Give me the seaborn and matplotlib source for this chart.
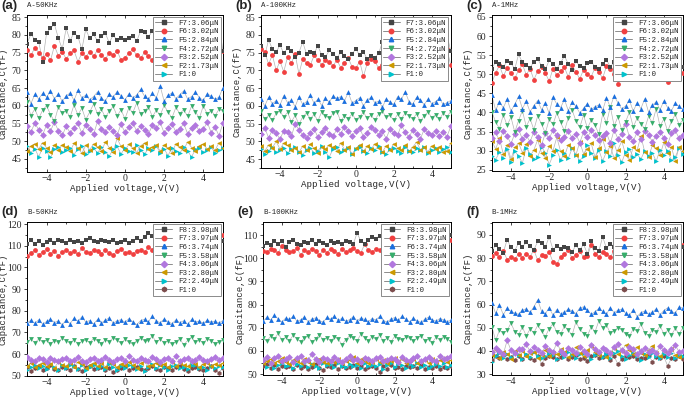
import numpy as np
import pandas as pd
import matplotlib
matplotlib.use("Agg")
import matplotlib.pyplot as plt
from matplotlib.lines import Line2D
from matplotlib.ticker import AutoMinorLocator, MultipleLocator
import seaborn as sns

# Valores (capacitância em fF), varredura de -5 V a 5 V
A50_F7 = [77.5, 80.2, 78.6, 78.0, 72.4, 80.5, 81.9, 83.0, 79.1, 76.0,
          81.8, 78.4, 80.6, 79.5, 75.9, 81.6, 79.0, 80.1, 78.3, 79.6,
          80.4, 77.8, 79.9, 78.5, 79.2, 78.6, 79.0, 79.8, 78.2, 81.1,
          80.7, 79.3, 81.2, 78.5, 80.0, 80.6, 79.1, 78.0, 80.8, 78.9,
          79.6, 81.0, 78.4, 80.2, 79.0, 78.6, 80.5, 78.2, 81.0, 83.0, 75.5]
A50_F6 = [75.8, 74.2, 76.4, 75.0, 73.5, 74.6, 72.8, 76.9, 74.1, 75.3,
          73.2, 74.8, 75.6, 72.4, 74.9, 73.8, 75.2, 74.0, 75.7, 74.4,
          73.1, 75.0, 74.3, 75.5, 72.9, 73.6, 74.8, 75.9, 74.2, 73.4,
          75.1, 74.0, 72.8, 75.4, 74.6, 73.5, 76.1, 74.3, 75.0, 73.7,
          74.9, 75.6, 73.2, 74.5, 75.3, 74.0, 73.6, 75.2, 74.7, 79.0, 75.4]
A50_F5 = [63.8, 60.6, 63.2, 61.9, 63.5, 62.4, 64.1, 62.0, 63.3, 61.2,
          62.8, 63.6, 61.5, 64.3, 62.2, 63.0, 61.7, 62.6, 63.9, 62.1,
          61.4, 63.2, 62.5, 64.0, 62.8, 61.6, 63.4, 62.3, 63.0, 64.6,
          62.7, 61.8, 63.5, 62.2, 65.5, 61.3, 62.9, 63.6, 62.0, 63.1,
          64.2, 61.9, 62.6, 63.8, 62.3, 61.5, 63.4, 62.7, 61.8, 62.4, 65.0]
A50_F4 = [61.0, 57.2, 59.1, 56.4, 58.8, 60.0, 57.5, 55.6, 59.6, 57.9,
          58.6, 56.8, 60.2, 57.4, 59.3, 56.1, 58.2, 60.5, 57.8, 59.0,
          56.7, 58.5, 59.8, 57.1, 58.9, 56.3, 59.4, 58.0, 60.8, 57.6,
          58.4, 59.7, 56.9, 58.7, 57.3, 60.1, 58.2, 56.6, 59.5, 57.8,
          58.9, 57.0, 59.9, 58.3, 56.5, 60.0, 57.7, 58.6, 57.2, 59.0, 58.4]
A50_F3 = [54.3, 52.6, 55.1, 53.2, 51.8, 54.6, 52.9, 55.4, 53.0, 51.6,
          54.2, 52.4, 53.8, 55.0, 52.2, 54.7, 53.3, 51.9, 55.6, 53.5,
          52.7, 54.1, 53.0, 51.7, 54.8, 52.5, 53.9, 55.2, 52.8, 54.4,
          53.1, 52.0, 54.5, 53.6, 55.3, 52.3, 53.8, 54.9, 52.6, 53.4,
          55.0, 52.1, 53.7, 54.6, 52.9, 53.3, 55.4, 52.4, 54.0, 51.5, 55.1]
A50_F2 = [47.2, 48.6, 49.3, 47.8, 49.6, 48.1, 46.9, 48.9, 47.5, 49.0,
          48.3, 47.1, 49.4, 48.0, 46.6, 48.8, 47.6, 49.2, 48.4, 47.3,
          49.7, 48.2, 47.0, 50.8, 48.5, 47.4, 49.1, 48.0, 46.8, 48.7,
          49.5, 47.7, 48.3, 49.0, 47.2, 48.9, 48.1, 46.7, 49.3, 48.4,
          47.6, 49.8, 48.2, 47.3, 48.6, 49.1, 47.8, 48.5, 47.4, 49.6, 48.0]
A50_F1 = [48.5, 46.8, 47.9, 45.6, 48.2, 47.1, 45.4, 47.8, 48.4, 46.9,
          47.6, 48.1, 46.2, 47.9, 48.6, 46.5, 47.3, 48.0, 46.7, 48.3,
          47.0, 45.8, 47.7, 48.5, 46.4, 48.1, 47.2, 46.9, 48.8, 47.5,
          46.3, 48.0, 47.4, 48.6, 46.8, 47.9, 45.9, 48.2, 47.1, 46.6,
          48.4, 47.3, 45.5, 47.8, 48.1, 46.9, 47.6, 48.3, 46.7, 47.4, 48.0]

A100_F7 = [77.0, 74.2, 78.6, 76.0, 75.2, 77.1, 74.8, 76.3, 75.5, 73.9,
           75.0, 78.0, 74.6, 75.3, 74.9, 76.8, 74.4, 73.8, 75.6, 74.7,
           73.5, 75.1, 74.0, 73.3, 74.6, 76.1, 74.2, 75.3, 73.1, 74.0,
           73.6, 74.8, 78.0, 75.4, 76.0, 75.7, 74.9, 76.5, 75.8, 77.0,
           75.2, 76.4, 75.6, 74.8, 76.9, 75.3, 76.1, 75.0, 77.4, 80.0, 75.5]
A100_F6 = [76.0, 75.1, 71.8, 74.3, 70.0, 72.6, 69.6, 73.8, 72.0, 74.6,
           69.0, 73.2, 72.1, 71.5, 74.2, 72.8, 71.6, 73.0, 72.4, 71.3,
           72.9, 70.8, 72.2, 73.5, 71.0, 70.7, 72.5, 68.3, 72.0, 73.1,
           72.6, 70.6, 71.5, 72.8, 73.6, 71.9, 72.4, 73.0, 74.2, 72.7,
           71.4, 73.3, 72.1, 70.9, 73.0, 72.2, 73.6, 71.8, 72.5, 76.0, 71.5]
A100_F5 = [61.8, 60.0, 62.4, 60.6, 61.5, 60.2, 62.9, 60.9, 61.6, 59.8,
           62.5, 60.4, 61.2, 63.0, 60.7, 61.9, 60.1, 62.2, 61.0, 62.8,
           62.1, 62.6, 61.4, 63.8, 60.8, 61.5, 62.3, 60.0, 61.7, 62.4,
           60.9, 61.3, 59.6, 62.0, 61.1, 60.4, 62.6, 61.8, 64.0, 61.2,
           60.5, 62.4, 61.7, 60.3, 61.9, 60.6, 61.2, 62.1, 60.4, 60.9, 61.5]
A100_F4 = [58.5, 56.2, 57.4, 55.9, 57.9, 58.6, 56.8, 58.2, 55.5, 57.3,
           54.8, 56.9, 58.0, 56.4, 57.6, 55.8, 58.3, 57.1, 56.6, 57.9,
           58.4, 55.7, 57.2, 56.3, 57.8, 56.1, 57.0, 58.2, 56.5, 57.4,
           56.0, 57.7, 58.5, 56.8, 57.3, 55.9, 57.6, 56.4, 58.0, 57.1,
           56.3, 57.8, 55.6, 57.2, 58.3, 56.7, 57.5, 56.2, 57.9, 57.0, 58.4]
A100_F3 = [52.1, 53.8, 51.0, 53.2, 52.4, 50.6, 53.0, 52.6, 51.4, 54.9,
           53.3, 51.8, 50.9, 52.4, 53.6, 51.1, 52.7, 53.9, 52.0, 51.5,
           53.4, 52.2, 54.1, 53.0, 51.6, 52.9, 53.7, 51.3, 52.5, 54.0,
           53.1, 51.9, 52.8, 50.8, 53.5, 52.3, 51.7, 54.6, 52.6, 51.2,
           53.2, 52.0, 50.7, 53.4, 52.4, 51.8, 53.0, 51.5, 52.7, 51.3, 54.2]
A100_F2 = [48.6, 47.3, 49.0, 48.2, 50.0, 47.8, 49.5, 48.9, 47.5, 48.1,
           46.9, 48.7, 47.6, 49.2, 48.0, 46.7, 48.4, 47.9, 49.0, 48.3,
           47.4, 49.6, 47.7, 48.5, 46.4, 48.0, 49.1, 47.3, 48.6, 47.8,
           49.3, 48.1, 47.0, 48.8, 47.5, 49.4, 48.2, 47.6, 48.9, 47.2,
           48.4, 49.8, 47.7, 48.3, 47.1, 48.7, 47.9, 48.5, 47.0, 47.4, 49.5]
A100_F1 = [47.8, 46.5, 47.3, 48.4, 46.9, 47.6, 48.1, 46.6, 47.9, 48.5,
           47.1, 46.3, 47.7, 48.2, 46.8, 47.4, 48.6, 47.0, 45.6, 47.9,
           48.3, 46.9, 47.5, 48.0, 46.4, 47.8, 48.4, 47.2, 46.7, 48.1,
           47.6, 48.7, 47.0, 46.5, 47.9, 48.2, 47.3, 46.8, 48.5, 47.4,
           46.9, 48.0, 47.7, 48.3, 46.6, 47.5, 48.1, 47.0, 47.8, 48.4, 46.9]

A1M_F7 = [51.5, 53.2, 52.6, 51.8, 53.5, 52.9, 51.4, 55.2, 53.1, 52.4,
          51.7, 53.3, 54.0, 52.2, 51.3, 53.6, 52.8, 51.5, 53.0, 54.8,
          52.7, 51.2, 53.4, 52.1, 51.6, 52.9, 53.3, 52.0, 51.4, 52.6,
          53.8, 51.9, 53.2, 55.3, 54.9, 53.7, 55.8, 54.3, 53.6, 52.8,
          54.1, 53.0, 52.4, 53.7, 52.1, 53.5, 52.9, 51.8, 53.3, 52.6, 52.0]
A1M_F6 = [47.8, 50.4, 52.3, 49.5, 51.6, 50.2, 48.9, 51.1, 52.6, 49.9,
          51.4, 48.6, 50.8, 52.0, 50.3, 48.2, 51.5, 49.7, 50.9, 51.8,
          49.3, 52.4, 50.6, 48.8, 51.2, 50.0, 49.4, 51.7, 50.5, 49.0,
          52.1, 51.3, 50.1, 47.5, 51.0, 49.8, 52.5, 50.7, 49.2, 51.6,
          50.4, 48.7, 51.9, 50.2, 49.6, 51.3, 48.0, 50.8, 49.9, 51.4, 50.3]
A1M_F5 = [44.5, 40.6, 42.8, 41.2, 43.5, 40.4, 42.1, 44.2, 41.0, 42.9,
          40.2, 41.8, 43.1, 40.7, 42.4, 39.8, 44.0, 42.2, 41.3, 43.4,
          40.5, 42.7, 41.6, 39.9, 41.1, 42.3, 40.8, 41.5, 42.0, 40.6,
          43.8, 41.4, 44.4, 42.5, 40.9, 41.7, 43.2, 40.3, 42.6, 41.0,
          43.6, 40.1, 41.9, 42.8, 40.7, 43.0, 41.3, 40.5, 42.4, 41.6, 40.8]
A1M_F4 = [40.2, 37.5, 35.8, 39.4, 36.6, 38.8, 34.9, 37.9, 40.5, 36.3,
          38.4, 35.5, 39.1, 37.0, 34.6, 38.2, 36.9, 39.9, 37.4, 35.2,
          38.6, 40.7, 37.8, 36.1, 39.3, 35.9, 38.0, 36.7, 34.3, 39.6,
          37.2, 41.5, 36.5, 38.9, 35.4, 37.6, 40.1, 36.2, 38.5, 37.1,
          35.7, 39.0, 37.3, 41.0, 36.4, 38.3, 35.1, 37.7, 39.5, 36.8, 38.1]
A1M_F3 = [33.4, 34.8, 32.6, 35.2, 33.9, 31.8, 34.5, 35.6, 33.0, 34.1,
          32.3, 35.0, 33.7, 31.5, 34.6, 33.2, 35.4, 34.0, 32.8, 33.6,
          35.1, 33.3, 34.4, 32.1, 34.9, 33.5, 35.3, 34.2, 32.7, 33.8,
          34.7, 31.9, 35.5, 33.1, 34.3, 37.0, 33.6, 32.5, 34.8, 33.0,
          35.2, 34.1, 32.4, 33.9, 35.0, 33.4, 31.7, 34.6, 35.3, 33.2, 34.0]
A1M_F2 = [32.6, 30.4, 33.2, 29.1, 31.5, 27.8, 30.9, 32.0, 29.5, 31.8,
          28.6, 30.2, 32.9, 29.4, 28.1, 31.3, 30.0, 33.5, 29.8, 28.5,
          31.6, 30.7, 28.9, 32.3, 29.2, 30.5, 31.9, 28.3, 30.8, 33.0,
          29.6, 31.2, 28.0, 30.3, 32.5, 29.0, 27.5, 31.0, 30.1, 33.8,
          29.7, 28.4, 31.4, 30.6, 28.8, 32.2, 29.3, 30.9, 27.2, 31.1, 29.9]
A1M_F1 = [28.5, 27.7, 29.6, 28.2, 30.4, 27.1, 29.9, 28.6, 26.8, 30.8,
          29.2, 27.9, 28.4, 31.0, 29.5, 26.4, 28.8, 30.1, 27.6, 29.3,
          28.0, 30.6, 29.0, 27.4, 28.7, 31.5, 29.4, 28.1, 30.2, 27.3,
          29.8, 28.5, 31.9, 28.9, 27.0, 29.7, 30.5, 28.3, 29.1, 27.8,
          30.0, 28.6, 29.5, 27.2, 30.3, 28.8, 29.9, 27.5, 28.4, 30.7, 29.2]

B50_F8 = [111.0, 112.5, 110.8, 112.2, 110.5, 111.6, 112.9, 111.3, 112.7, 112.0,
          111.4, 112.6, 111.8, 112.3, 111.1, 112.8, 113.4, 112.1, 111.6, 112.9,
          112.2, 111.7, 112.5, 111.3, 111.8, 112.6, 111.2, 112.0, 113.5, 112.4,
          113.9, 115.8, 114.6, 113.2, 115.0, 114.2, 113.5, 112.8, 114.0, 113.3,
          112.7, 114.1, 113.6, 112.9, 113.8, 112.4, 113.5, 114.0, 112.8, 113.6, 112.2]
B50_F7 = [105.5, 106.8, 107.9, 105.8, 107.2, 108.5, 106.3, 107.8, 105.4, 107.0,
          108.2, 106.6, 107.5, 106.0, 108.8, 107.3, 106.9, 108.0, 107.6, 106.4,
          107.9, 106.7, 105.8, 107.4, 108.6, 106.5, 107.1, 106.2, 107.8, 108.3,
          107.0, 109.5, 108.1, 107.4, 110.2, 108.9, 107.7, 108.5, 109.4, 108.0,
          109.8, 107.9, 108.6, 109.2, 108.3, 109.0, 107.6, 108.8, 109.5, 113.0, 115.0]
B50_F6 = [74.5, 75.6, 74.2, 75.9, 73.8, 75.1, 76.2, 74.6, 75.3, 73.5,
          75.8, 74.0, 76.6, 75.2, 77.2, 74.8, 75.5, 73.9, 76.0, 74.4,
          75.7, 76.8, 74.3, 75.4, 75.9, 74.7, 76.4, 75.0, 73.6, 75.5,
          76.1, 74.9, 77.6, 75.3, 74.5, 76.2, 75.0, 74.1, 75.8, 74.6,
          75.4, 73.7, 76.0, 74.8, 75.2, 74.3, 75.6, 74.9, 75.1, 74.4, 75.5]
B50_F5 = [65.8, 66.9, 65.2, 67.0, 65.6, 66.4, 64.9, 66.2, 65.5, 67.3,
          66.0, 65.1, 66.7, 64.6, 65.9, 66.5, 65.3, 67.2, 66.1, 64.8,
          66.6, 65.7, 67.6, 66.3, 65.0, 66.8, 65.4, 64.7, 66.2, 67.5,
          65.9, 66.4, 68.3, 65.6, 66.9, 65.2, 66.1, 64.5, 65.8, 67.1,
          64.3, 66.3, 67.9, 65.4, 66.6, 65.0, 67.2, 66.0, 64.9, 65.5, 66.4]
B50_F4 = [58.5, 57.3, 56.8, 58.0, 57.6, 56.5, 58.4, 57.1, 56.9, 57.8,
          58.2, 56.6, 57.5, 58.6, 57.0, 56.4, 57.9, 58.3, 56.7, 57.4,
          58.8, 57.2, 56.3, 57.7, 58.1, 56.9, 59.2, 57.5, 56.6, 58.0,
          57.3, 56.8, 58.7, 57.6, 56.5, 57.9, 58.4, 57.0, 59.0, 56.7,
          57.8, 58.2, 56.9, 57.4, 58.5, 57.1, 56.6, 57.7, 58.9, 57.3, 58.0]
B50_F3 = [54.6, 55.8, 53.9, 55.2, 56.1, 54.3, 55.5, 53.6, 56.4, 55.0,
          54.7, 55.9, 54.1, 56.3, 55.4, 53.8, 55.1, 56.0, 54.5, 55.7,
          54.2, 56.5, 55.3, 54.0, 55.6, 54.8, 56.2, 55.0, 53.7, 55.9,
          56.6, 54.4, 55.2, 56.1, 54.9, 55.5, 53.9, 56.3, 54.6, 55.8,
          55.1, 54.3, 56.4, 55.6, 54.0, 55.3, 56.0, 54.7, 55.4, 54.9, 55.7]
B50_F2 = [52.5, 54.2, 55.0, 53.4, 54.7, 53.0, 55.3, 54.1, 52.8, 54.9,
          53.6, 55.2, 54.4, 53.1, 54.8, 52.6, 54.0, 55.1, 53.7, 54.5,
          53.3, 55.4, 54.2, 52.9, 54.6, 53.8, 55.0, 54.3, 53.2, 54.7,
          52.4, 54.1, 55.3, 53.5, 54.8, 53.9, 52.7, 54.4, 55.1, 53.6,
          54.2, 53.0, 54.9, 55.2, 53.4, 54.0, 52.8, 54.6, 53.7, 54.3, 53.9]
B50_F1 = [54.0, 52.4, 53.8, 54.5, 52.9, 53.6, 54.8, 53.1, 52.5, 54.2,
          53.7, 52.8, 54.4, 53.3, 52.2, 53.9, 54.6, 53.0, 53.5, 54.1,
          52.6, 53.4, 51.8, 52.7, 53.8, 54.3, 52.9, 53.6, 54.0, 53.2,
          52.5, 53.7, 54.5, 53.1, 52.8, 54.2, 53.4, 52.6, 53.9, 54.4,
          53.0, 52.3, 53.7, 54.1, 53.3, 52.7, 53.8, 54.3, 52.9, 51.5, 53.6]

B100_F8 = [105.5, 106.8, 105.9, 107.4, 106.2, 107.6, 104.9, 106.9, 107.8, 106.4,
           105.8, 107.2, 106.5, 107.9, 106.0, 107.3, 106.8, 105.7, 107.5, 106.6,
           107.1, 106.3, 107.7, 106.9, 106.1, 111.0, 107.4, 106.2, 108.0, 109.2,
           108.5, 109.8, 110.5, 109.4, 108.8, 110.0, 109.1, 110.6, 108.7, 109.6,
           110.3, 109.0, 108.6, 109.9, 110.4, 108.9, 109.5, 110.1, 109.3, 108.8, 110.0]
B100_F7 = [103.3, 102.6, 104.0, 103.5, 102.2, 105.5, 103.8, 102.9, 103.2, 104.3,
           101.5, 103.6, 102.8, 104.1, 103.0, 101.4, 103.7, 102.5, 104.2, 103.3,
           102.0, 103.9, 102.7, 103.4, 104.5, 103.1, 102.4, 106.0, 103.5, 102.9,
           104.0, 103.6, 102.3, 104.6, 103.8, 105.2, 103.0, 104.4, 102.8, 103.9,
           104.8, 103.4, 102.6, 104.1, 103.7, 105.0, 104.3, 106.2, 105.5, 104.9, 108.0]
B100_F6 = [72.8, 74.6, 73.3, 75.4, 73.9, 72.5, 74.2, 73.6, 74.9, 72.9,
           73.4, 74.7, 72.6, 73.8, 74.3, 73.1, 72.4, 74.5, 73.7, 75.0,
           73.2, 74.1, 72.8, 73.5, 74.8, 73.0, 74.2, 73.6, 72.7, 74.0,
           73.4, 74.9, 73.1, 72.5, 73.8, 74.4, 73.2, 75.1, 73.6, 72.6,
           74.1, 73.0, 72.3, 73.7, 74.6, 73.3, 72.9, 74.0, 73.5, 72.7, 73.4]
B100_F5 = [65.5, 64.2, 66.3, 65.0, 67.6, 64.8, 65.9, 64.4, 66.7, 65.2,
           64.0, 65.6, 66.4, 63.8, 65.3, 67.0, 64.6, 65.8, 64.1, 66.0,
           65.1, 62.7, 64.9, 66.5, 65.4, 64.3, 67.2, 65.7, 64.5, 66.1,
           65.0, 66.9, 64.2, 65.6, 63.9, 66.3, 65.2, 64.7, 66.0, 65.5,
           64.1, 65.8, 66.6, 64.4, 65.3, 63.6, 65.9, 64.8, 66.2, 65.1, 64.0]
B100_F4 = [56.2, 57.4, 55.0, 56.8, 58.0, 55.6, 56.4, 57.2, 55.3, 56.9,
           57.6, 55.8, 56.1, 58.6, 56.5, 55.2, 57.0, 56.3, 55.7, 57.3,
           56.0, 55.4, 56.7, 57.8, 55.9, 56.6, 55.1, 57.1, 56.4, 55.5,
           56.8, 57.5, 55.8, 56.2, 57.0, 56.6, 55.3, 57.4, 56.1, 55.6,
           56.9, 57.7, 55.5, 56.4, 57.2, 56.0, 55.7, 57.9, 56.3, 56.8, 58.0]
B100_F3 = [54.6, 55.8, 56.4, 54.9, 55.5, 56.8, 55.2, 54.4, 56.1, 55.7,
           54.8, 56.3, 55.1, 54.5, 55.9, 56.6, 55.3, 54.7, 56.0, 55.4,
           56.5, 54.9, 55.6, 56.2, 57.5, 55.0, 56.4, 55.8, 54.6, 55.3,
           56.7, 55.1, 56.0, 54.8, 55.5, 56.9, 55.2, 56.3, 54.7, 55.9,
           56.5, 55.0, 55.7, 56.2, 54.9, 56.6, 55.4, 55.9, 56.8, 55.3, 56.0]
B100_F2 = [55.0, 53.2, 54.6, 52.8, 53.9, 54.8, 53.4, 54.1, 52.6, 54.5,
           53.7, 54.9, 53.0, 54.3, 53.6, 52.5, 54.7, 53.8, 54.2, 53.1,
           54.6, 53.5, 52.9, 54.4, 53.7, 54.0, 52.7, 54.8, 53.3, 54.1,
           53.6, 54.5, 52.3, 53.9, 54.7, 53.2, 54.2, 53.8, 52.8, 54.4,
           53.5, 54.9, 53.1, 54.0, 52.6, 53.7, 54.3, 53.4, 54.6, 53.0, 53.8]
B100_F1 = [53.4, 54.5, 52.6, 53.9, 52.2, 53.7, 52.9, 53.3, 52.4, 54.0,
           52.8, 53.5, 52.1, 53.1, 54.2, 52.7, 51.6, 53.4, 52.9, 53.8,
           52.3, 53.6, 52.5, 53.2, 54.1, 52.8, 53.5, 52.0, 53.0, 53.7,
           52.6, 50.8, 53.3, 52.4, 53.9, 52.7, 53.1, 52.2, 53.6, 52.9,
           53.4, 52.5, 53.8, 52.3, 53.0, 52.7, 53.5, 52.1, 53.2, 52.8, 53.6]

B1M_F8 = [83.2, 85.6, 83.9, 82.4, 88.0, 84.7, 83.3, 86.5, 84.9, 86.8,
          85.1, 83.6, 87.2, 86.4, 84.8, 89.2, 83.7, 85.3, 84.1, 85.0,
          84.4, 82.8, 85.5, 83.4, 86.0, 81.9, 87.4, 84.6, 83.1, 89.2,
          84.2, 86.3, 85.0, 84.5, 83.8, 84.3, 85.4, 86.6, 85.8, 89.0,
          84.7, 87.0, 85.2, 83.6, 84.9, 86.1, 85.3, 84.0, 83.5, 85.8, 85.0]
B1M_F7 = [81.0, 82.4, 80.3, 83.2, 79.4, 80.5, 79.6, 81.8, 80.2, 82.0,
          80.7, 83.5, 79.1, 81.3, 80.9, 82.6, 78.3, 77.5, 80.6, 81.8,
          83.4, 80.0, 81.5, 82.9, 80.3, 81.1, 85.5, 82.0, 80.4, 82.8,
          81.7, 80.6, 83.0, 81.2, 82.5, 80.8, 79.8, 80.5, 78.8, 81.9,
          82.2, 80.7, 83.3, 81.4, 80.1, 82.7, 81.0, 83.5, 82.0, 84.0, 85.5]
B1M_F6 = [60.5, 56.2, 59.8, 55.6, 58.4, 57.0, 56.3, 55.8, 57.5, 58.2,
          56.6, 59.0, 62.0, 57.2, 56.0, 58.6, 55.4, 57.8, 55.9, 56.8,
          58.0, 57.3, 56.1, 58.5, 59.0, 57.6, 55.7, 56.9, 58.3, 57.1,
          55.8, 58.7, 56.4, 57.6, 58.0, 56.2, 55.3, 57.8, 54.8, 56.5,
          57.2, 55.9, 56.7, 58.1, 55.6, 57.4, 58.6, 57.0, 56.3, 59.0, 58.4]
B1M_F5 = [50.5, 44.5, 49.0, 47.6, 48.8, 52.0, 48.3, 47.0, 50.2, 46.5,
          49.4, 47.8, 51.0, 48.5, 46.2, 49.6, 51.8, 48.0, 47.3, 50.7,
          48.9, 46.8, 52.5, 49.3, 47.5, 46.5, 50.4, 48.2, 53.0, 49.8,
          51.2, 47.6, 48.7, 50.0, 49.1, 47.2, 46.3, 49.5, 48.4, 51.5,
          47.9, 46.6, 49.2, 48.0, 50.8, 47.4, 48.9, 46.9, 49.7, 47.3, 50.0]
B1M_F4 = [39.5, 41.2, 40.0, 38.6, 44.5, 40.3, 39.1, 41.0, 40.7, 42.8,
          39.8, 41.5, 40.2, 38.9, 42.0, 40.6, 39.4, 43.5, 40.1, 38.8,
          41.3, 40.5, 39.2, 41.8, 40.0, 38.5, 42.6, 40.9, 39.6, 41.1,
          40.4, 39.0, 41.7, 43.0, 40.2, 39.3, 41.5, 40.8, 38.7, 40.0,
          41.2, 39.7, 40.5, 39.1, 41.9, 40.3, 38.9, 40.7, 42.5, 39.5, 40.1]
B1M_F3 = [38.2, 40.4, 37.0, 39.6, 38.8, 36.5, 39.9, 38.4, 40.1, 37.6,
          38.9, 39.5, 36.9, 38.3, 40.6, 37.8, 39.2, 38.6, 40.9, 39.7,
          37.3, 38.7, 41.5, 39.1, 38.0, 40.3, 42.0, 39.4, 38.1, 40.8,
          37.5, 39.0, 41.2, 38.5, 39.8, 42.6, 40.2, 38.8, 41.7, 39.3,
          38.4, 40.5, 42.3, 39.0, 37.7, 40.0, 39.6, 41.0, 38.3, 37.2, 39.8]
B1M_F2 = [35.0, 37.6, 39.2, 36.8, 38.5, 37.3, 39.0, 38.1, 36.5, 38.8,
          37.5, 39.4, 38.0, 36.9, 37.7, 39.1, 38.3, 36.6, 38.9, 37.2,
          39.6, 38.4, 37.0, 38.7, 39.3, 37.8, 36.4, 38.2, 39.5, 37.4,
          38.6, 37.1, 38.9, 39.8, 37.6, 36.7, 38.3, 39.0, 37.9, 36.2,
          38.5, 37.3, 39.2, 38.0, 36.8, 38.6, 37.5, 39.1, 36.9, 38.2, 37.7]
B1M_F1 = [36.2, 37.8, 37.0, 38.4, 36.6, 37.3, 35.9, 37.9, 36.5, 38.2,
          37.1, 36.0, 37.6, 34.5, 36.8, 38.0, 37.2, 36.4, 37.5, 38.6,
          36.7, 37.4, 38.1, 36.3, 37.0, 35.7, 37.8, 38.3, 36.9, 37.2,
          38.5, 36.1, 37.7, 34.2, 36.6, 37.9, 37.3, 38.0, 36.4, 37.1,
          36.8, 38.2, 35.4, 37.5, 36.9, 37.6, 33.5, 37.0, 36.3, 37.8, 36.5]

LABELS_A = ["F7:3.06μN", "F6:3.02μN", "F5:2.84μN", "F4:2.72μN",
            "F3:2.52μN", "F2:1.73μN", "F1:0"]
LABELS_B = ["F8:3.98μN", "F7:3.97μN", "F6:3.74μN", "F5:3.58μN",
            "F4:3.06μN", "F3:2.80μN", "F2:2.49μN", "F1:0"]

COLORS = ["#454545", "#F14040", "#1A6FDF", "#37AD6B", "#B177DE",
          "#CC9900", "#00C2CC", "#7D4E4E"]
MARKERS = ["s", "o", "^", "v", "D", "<", ">", "h"]

# (tag, subtítulo, séries, legendas, ylim, passo y, [l, b, w, h], y do tag)
PANELS = [
    ("(a)", "A-50KHz", [A50_F7, A50_F6, A50_F5, A50_F4, A50_F3, A50_F2, A50_F1],
     LABELS_A, (41.3, 85.6), 5, [0.0394, 0.570, 0.286, 0.3925], 0.999),
    ("(b)", "A-100KHz", [A100_F7, A100_F6, A100_F5, A100_F4, A100_F3, A100_F2, A100_F1],
     LABELS_A, (42.5, 85.6), 5, [0.381, 0.580, 0.277, 0.3825], 0.999),
    ("(c)", "A-1MHz", [A1M_F7, A1M_F6, A1M_F5, A1M_F4, A1M_F3, A1M_F2, A1M_F1],
     LABELS_A, (24.7, 65.5), 5, [0.718, 0.5725, 0.279, 0.390], 0.999),
    ("(d)", "B-50KHz", [B50_F8, B50_F7, B50_F6, B50_F5, B50_F4, B50_F3, B50_F2, B50_F1],
     LABELS_B, (49.9, 121.0), 10, [0.0394, 0.060, 0.286, 0.385], 0.486),
    ("(e)", "B-100KHz", [B100_F8, B100_F7, B100_F6, B100_F5, B100_F4, B100_F3, B100_F2, B100_F1],
     LABELS_B, (49.6, 115.7), 10, [0.384, 0.0625, 0.2745, 0.3825], 0.486),
    ("(f)", "B-1MHz", [B1M_F8, B1M_F7, B1M_F6, B1M_F5, B1M_F4, B1M_F3, B1M_F2, B1M_F1],
     LABELS_B, (29.6, 95.6), 10, [0.718, 0.0625, 0.279, 0.3825], 0.486),
]

sns.set_theme(style="ticks")
plt.rcParams["font.family"] = ["Liberation Sans", "DejaVu Sans"]
MONO = ["Liberation Mono", "DejaVu Sans Mono"]
SERIF = ["Liberation Serif", "DejaVu Serif"]

W_PX = 685
fig = plt.figure(figsize=(6.85, 4.0), dpi=100)

for tag, subtitle, series, labels, ylim, ystep, rect, tag_y in PANELS:
    ax = fig.add_axes(rect)
    handles = []
    for i, (vals, lab) in enumerate(zip(series, labels)):
        n = len(series) - i  # Origin plota F1 por cima
        df = pd.DataFrame({"V": np.linspace(-5, 5, len(vals)), "C": vals})
        sns.lineplot(data=df, x="V", y="C", ax=ax, color="#b4b4b4", lw=0.5,
                     sort=False, estimator=None, zorder=2)
        sns.scatterplot(data=df, x="V", y="C", ax=ax, color=COLORS[i],
                        marker=MARKERS[i], s=12, linewidth=0, zorder=3 + n)
        handles.append(Line2D([], [], color="#8c8c8c", lw=0.7, marker=MARKERS[i],
                              markersize=3.2, markerfacecolor=COLORS[i],
                              markeredgecolor=COLORS[i], label=lab))

    ax.set_xlim(-5, 5)
    ax.set_ylim(*ylim)
    ax.xaxis.set_major_locator(MultipleLocator(2))
    ax.yaxis.set_major_locator(MultipleLocator(ystep))
    ax.xaxis.set_minor_locator(AutoMinorLocator(2))
    ax.yaxis.set_minor_locator(AutoMinorLocator(2))
    ax.tick_params(axis="x", which="both", direction="in", top=True, width=0.6)
    ax.tick_params(axis="y", which="both", direction="out", right=False, width=0.6)
    ax.tick_params(which="major", length=2.5, labelsize=7, pad=1.5)
    ax.tick_params(which="minor", length=1.5)
    for lbl in ax.get_xticklabels() + ax.get_yticklabels():
        lbl.set_family(SERIF)
    for sp in ax.spines.values():
        sp.set_linewidth(0.7)
        sp.set_color("black")

    ax.set_xlabel("Applied voltage,V(V)", family=MONO, fontsize=6.6, labelpad=0.5)
    ax.set_ylabel("Capacitance,C(fF)", family=MONO, fontsize=6.4)
    # rótulo y a ~19 px da borda esquerda do eixo
    ax.yaxis.set_label_coords(-19.0 / (rect[2] * W_PX), 0.5)
    ax.text(0.0, 1.04, subtitle, transform=ax.transAxes, family=MONO,
            fontsize=5.3, va="bottom", ha="left")

    leg = ax.legend(handles=handles, loc="upper right", prop={"family": MONO, "size": 5.4},
                    frameon=True, fancybox=False, framealpha=1, borderaxespad=0.3,
                    labelspacing=0.18, handlelength=2.2, handletextpad=0.8,
                    borderpad=0.3)
    leg.get_frame().set_edgecolor("#8a8a8a")
    leg.get_frame().set_linewidth(0.7)
    leg.set_zorder(20)

    fig.text(rect[0] - 0.037, tag_y, tag, fontsize=9.5,
             fontweight="bold", va="top", ha="left")

plt.savefig("out.png", dpi=100)
